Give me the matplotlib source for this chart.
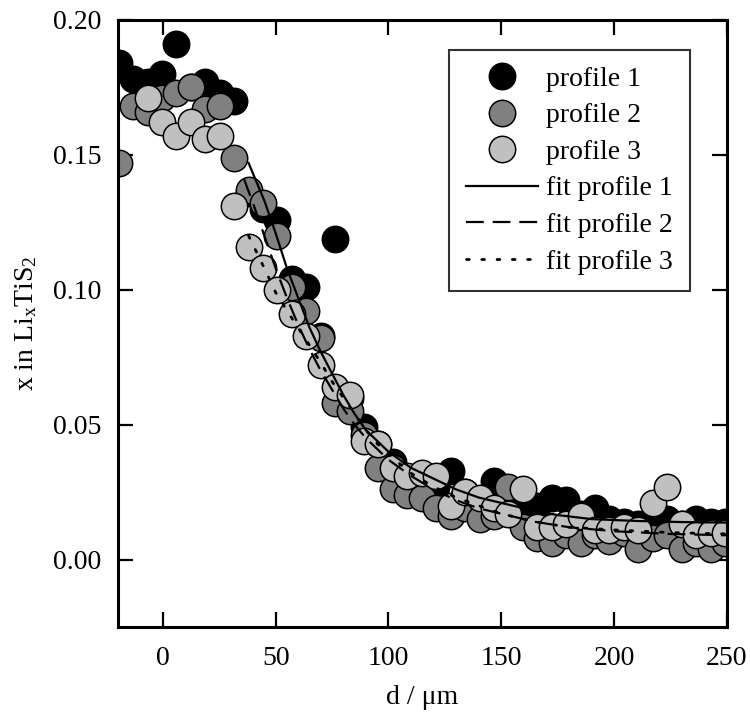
import matplotlib
matplotlib.use("Agg")
import matplotlib.pyplot as plt

plt.rcParams["font.family"] = ["Liberation Serif", "DejaVu Serif"]
plt.rcParams["mathtext.fontset"] = "custom"
plt.rcParams["mathtext.rm"] = "Liberation Serif"

# depth positions (um) of the measured points
d = [-19.6, -13.2, -6.8, -0.4, 6.0, 12.4, 18.8, 25.2, 31.6, 38.0, 44.4,
     50.8, 57.2, 63.6, 70.0, 76.4, 82.8, 89.2, 95.6, 102.0, 108.4, 114.8,
     121.2, 127.6, 134.0, 140.4, 146.8, 153.2, 159.6, 166.0, 172.4, 178.8,
     185.2, 191.6, 198.0, 204.4, 210.8, 217.2, 223.6, 230.0, 236.4, 242.8,
     249.2]

profile1 = [0.184, 0.178, 0.177, 0.180, 0.191, 0.175, 0.177, 0.173, 0.170,
            0.136, 0.130, 0.126, 0.104, 0.101, 0.083, 0.119, 0.060, 0.049,
            0.043, 0.036, 0.030, 0.029, 0.027, 0.033, 0.025, 0.022, 0.029,
            0.025, 0.021, 0.020, 0.023, 0.022, 0.017, 0.019, 0.015, 0.014,
            0.013, 0.012, 0.015, 0.013, 0.015, 0.014, 0.014]

profile2 = [0.147, 0.168, 0.166, 0.171, 0.173, 0.175, 0.167, 0.168, 0.149,
            0.137, 0.132, 0.120, 0.101, 0.092, 0.082, 0.058, 0.055, 0.046,
            0.034, 0.026, 0.024, 0.023, 0.019, 0.016, 0.019, 0.015, 0.016,
            0.027, 0.012, 0.008, 0.006, 0.009, 0.006, 0.009, 0.007, 0.010,
            0.004, 0.008, 0.009, 0.004, 0.006, 0.004, 0.006]

d3 = d[2:]
profile3 = [0.171, 0.162, 0.157, 0.162, 0.156, 0.157, 0.131, 0.116, 0.108,
            0.100, 0.091, 0.083, 0.072, 0.064, 0.061, 0.044, 0.043, 0.034,
            0.031, 0.032, 0.031, 0.020, 0.025, 0.023, 0.019, 0.017, 0.026,
            0.012, 0.012, 0.013, 0.016, 0.011, 0.011, 0.012, 0.011, 0.021,
            0.027, 0.013, 0.009, 0.010, 0.010]

# fit curves
fit1_d = [38, 45, 50, 55, 60, 65, 70, 75, 80, 85, 90, 95, 100, 105, 110, 120,
          130, 140, 150, 160, 175, 190, 210, 230, 250]
fit1_x = [0.147, 0.133, 0.121, 0.108, 0.097, 0.086, 0.077, 0.069, 0.061,
          0.054, 0.048, 0.044, 0.040, 0.037, 0.034, 0.030, 0.026, 0.023,
          0.021, 0.019, 0.0165, 0.015, 0.0143, 0.0139, 0.0137]

fit2_d = [36, 40, 45, 50, 55, 60, 65, 70, 75, 80, 85, 90, 95, 100, 110, 120,
          130, 140, 150, 165, 180, 200, 225, 250]
fit2_x = [0.141, 0.132, 0.120, 0.108, 0.097, 0.087, 0.078, 0.070, 0.063,
          0.056, 0.050, 0.045, 0.041, 0.037, 0.031, 0.026, 0.022, 0.019,
          0.017, 0.014, 0.012, 0.0105, 0.0095, 0.009]

fit3_d = [38, 45, 50, 56, 63, 70, 75, 80, 85, 90, 95, 100, 110, 120, 130, 140,
          150, 165, 180, 200, 225, 250]
fit3_x = [0.120, 0.108, 0.099, 0.091, 0.082, 0.073, 0.066, 0.060, 0.054,
          0.048, 0.043, 0.039, 0.032, 0.027, 0.023, 0.020, 0.017, 0.014,
          0.012, 0.011, 0.010, 0.0095]

fig = plt.figure(figsize=(7.5, 7.13), dpi=100)
ax = fig.add_axes([0.157, 0.1206, 0.812, 0.8514])

ms = 19
ax.plot(d, profile1, "o", ms=ms, mfc="black", mec="black", mew=1.1, label="profile 1")
ax.plot(d, profile2, "o", ms=ms, mfc="#808080", mec="black", mew=1.1, label="profile 2")
ax.plot(d3, profile3, "o", ms=ms, mfc="#c0c0c0", mec="black", mew=1.1, label="profile 3")

ax.plot(fit1_d, fit1_x, "-", color="black", lw=1.6, label="fit profile 1")
ax.plot(fit2_d, fit2_x, color="black", lw=1.6, dashes=(8, 4), label="fit profile 2")
ax.plot(fit3_d, fit3_x, color="black", lw=2, dashes=(1, 4.5),
        dash_capstyle="round", label="fit profile 3")

ax.set_xlim(-20, 250)
ax.set_ylim(-0.025, 0.20)
ax.set_xticks([0, 50, 100, 150, 200, 250])
ax.set_yticks([0.00, 0.05, 0.10, 0.15, 0.20])
ax.set_yticklabels(["0.00", "0.05", "0.10", "0.15", "0.20"])

ax.tick_params(direction="in", length=11, width=1.6, top=True, right=True,
               labelsize=20)
ax.tick_params(axis="x", pad=14)
ax.tick_params(axis="y", pad=12)
for s in ax.spines.values():
    s.set_linewidth(2.2)

ax.set_xlabel("d / \u03bcm", fontsize=20, labelpad=10)
ax.set_ylabel(r"x in Li$\mathregular{_x}$TiS$\mathregular{_2}$", fontsize=20, labelpad=10)

leg = ax.legend(loc="upper right", bbox_to_anchor=(0.939, 0.951), borderaxespad=0,
                fontsize=20, frameon=True, fancybox=False, edgecolor="black",
                handlelength=2.6, handletextpad=0.3, labelspacing=0.4,
                borderpad=0.6, numpoints=1)
leg.get_frame().set_linewidth(1.5)

fig.savefig("out.png", dpi=100)
